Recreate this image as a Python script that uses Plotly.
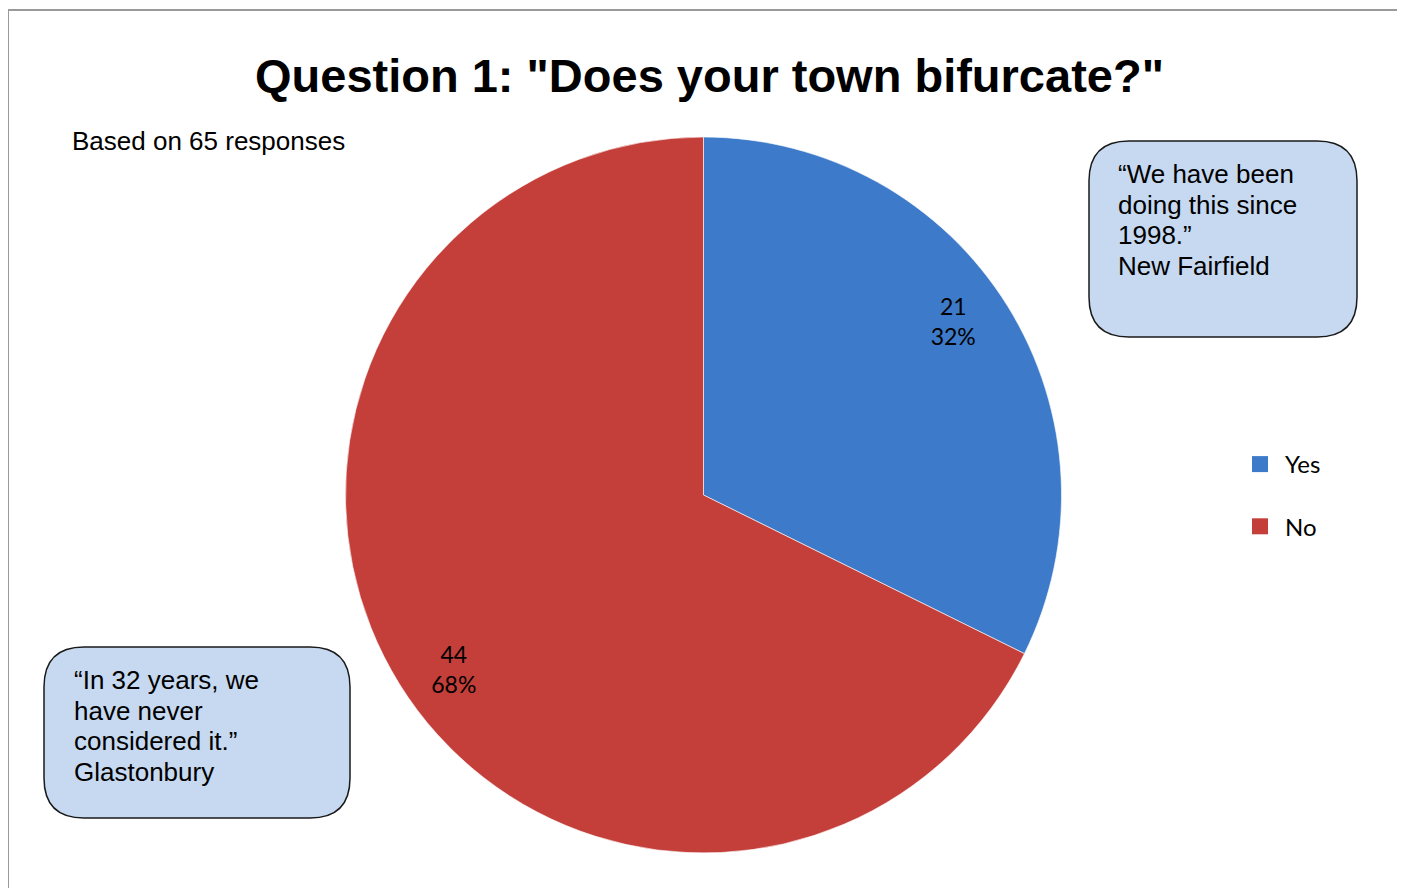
import plotly.graph_objects as go

W, H = 1405, 888
OFF = 8  # page body margin

# ---- data ----
categories = ["Yes", "No"]
counts = [21, 44]
slice_colors = ["#3d7ac9", "#c43e3a"]
title_text = 'Question 1: "Does your town bifurcate?"'
subtitle_text = "Based on 65 responses"
quote_right = ["\u201cWe have been", "doing this since", "1998.\u201d", "New Fairfield"]
quote_left = ["\u201cIn 32 years, we", "have never", "considered it.\u201d", "Glastonbury"]


def px(x):
    return (x - OFF) / W


def py(y):
    return 1 - (y - OFF) / H


def rounded_rect(x0, y0, x1, y1, r):
    pts = [
        f"M {px(x0 + r)} {py(y0)}",
        f"L {px(x1 - r)} {py(y0)}",
        f"Q {px(x1)} {py(y0)} {px(x1)} {py(y0 + r)}",
        f"L {px(x1)} {py(y1 - r)}",
        f"Q {px(x1)} {py(y1)} {px(x1 - r)} {py(y1)}",
        f"L {px(x0 + r)} {py(y1)}",
        f"Q {px(x0)} {py(y1)} {px(x0)} {py(y1 - r)}",
        f"L {px(x0)} {py(y0 + r)}",
        f"Q {px(x0)} {py(y0)} {px(x0 + r)} {py(y0)}",
        "Z",
    ]
    return " ".join(pts)


total = sum(counts)
texts = [f"{c}<br>{round(100 * c / total)}%" for c in counts]
pie_domain = dict(x=[px(345), px(1062)], y=[py(853), py(137)])

fig = go.Figure()
# filled pie
fig.add_trace(go.Pie(
    labels=categories,
    values=counts,
    textinfo="none",
    sort=False,
    direction="clockwise",
    rotation=0,
    marker=dict(colors=slice_colors, line=dict(color="rgba(255,255,255,0.6)", width=1)),
    domain=pie_domain,
    showlegend=False,
    hoverinfo="label+value+percent",
))
# transparent ring overlay carrying the labels (pushes them outward)
fig.add_trace(go.Pie(
    labels=categories,
    values=counts,
    text=texts,
    textinfo="text",
    textposition="inside",
    insidetextorientation="horizontal",
    hole=0.7,
    sort=False,
    direction="clockwise",
    rotation=-3,
    marker=dict(colors=["rgba(0,0,0,0)", "rgba(0,0,0,0)"], line=dict(width=0)),
    textfont=dict(family="Lato, Open Sans, sans-serif", size=23, color="#000000"),
    domain=pie_domain,
    showlegend=False,
    hoverinfo="skip",
))

# legend entries
for cat, col in zip(categories, slice_colors):
    fig.add_trace(go.Scatter(
        x=[None], y=[None], mode="markers", name=cat,
        marker=dict(symbol="square", size=17, color=col),
        legendgroup=cat, showlegend=True,
    ))

shapes = [
    dict(type="rect", xref="paper", yref="paper", x0=px(8), x1=px(1399), y0=py(920), y1=py(10),
         line=dict(color="#9a9a9a", width=2), fillcolor="rgba(0,0,0,0)", layer="below"),
    dict(type="path", xref="paper", yref="paper", path=rounded_rect(1089, 141, 1357, 337, 40),
         fillcolor="#c6d9f0", line=dict(color="#1a1a1a", width=1.5)),
    dict(type="path", xref="paper", yref="paper", path=rounded_rect(44, 647, 350, 818, 40),
         fillcolor="#c6d9f0", line=dict(color="#1a1a1a", width=1.5)),
]

ARIAL = "Liberation Sans, Arial, sans-serif"
annotations = [
    dict(text=f"<b>{title_text}</b>", x=px(709), y=py(75), xref="paper", yref="paper",
         xanchor="center", yanchor="middle", showarrow=False,
         font=dict(family=ARIAL, size=47, color="#000000")),
    dict(text=subtitle_text, x=px(70), y=py(141), xref="paper", yref="paper",
         xanchor="left", yanchor="middle", showarrow=False,
         font=dict(family=ARIAL, size=26, color="#000000")),
]
for i, line in enumerate(quote_right):
    annotations.append(dict(text=line, x=px(1116), y=py(174 + 30.7 * i), xref="paper", yref="paper",
                            xanchor="left", yanchor="middle", showarrow=False,
                            font=dict(family=ARIAL, size=26, color="#000000")))
for i, line in enumerate(quote_left):
    annotations.append(dict(text=line, x=px(72), y=py(680 + 30.7 * i), xref="paper", yref="paper",
                            xanchor="left", yanchor="middle", showarrow=False,
                            font=dict(family=ARIAL, size=26, color="#000000")))

fig.update_layout(
    width=W, height=H,
    margin=dict(l=0, r=0, t=0, b=0),
    paper_bgcolor="#ffffff", plot_bgcolor="#ffffff",
    xaxis=dict(visible=False), yaxis=dict(visible=False),
    shapes=shapes, annotations=annotations,
    legend=dict(x=px(1235), y=py(442), xanchor="left", yanchor="top",
                font=dict(family="Lato, Open Sans, sans-serif", size=24, color="#000000"),
                tracegroupgap=28, itemwidth=40, bgcolor="rgba(0,0,0,0)"),
)

fig.write_html("out.html")
